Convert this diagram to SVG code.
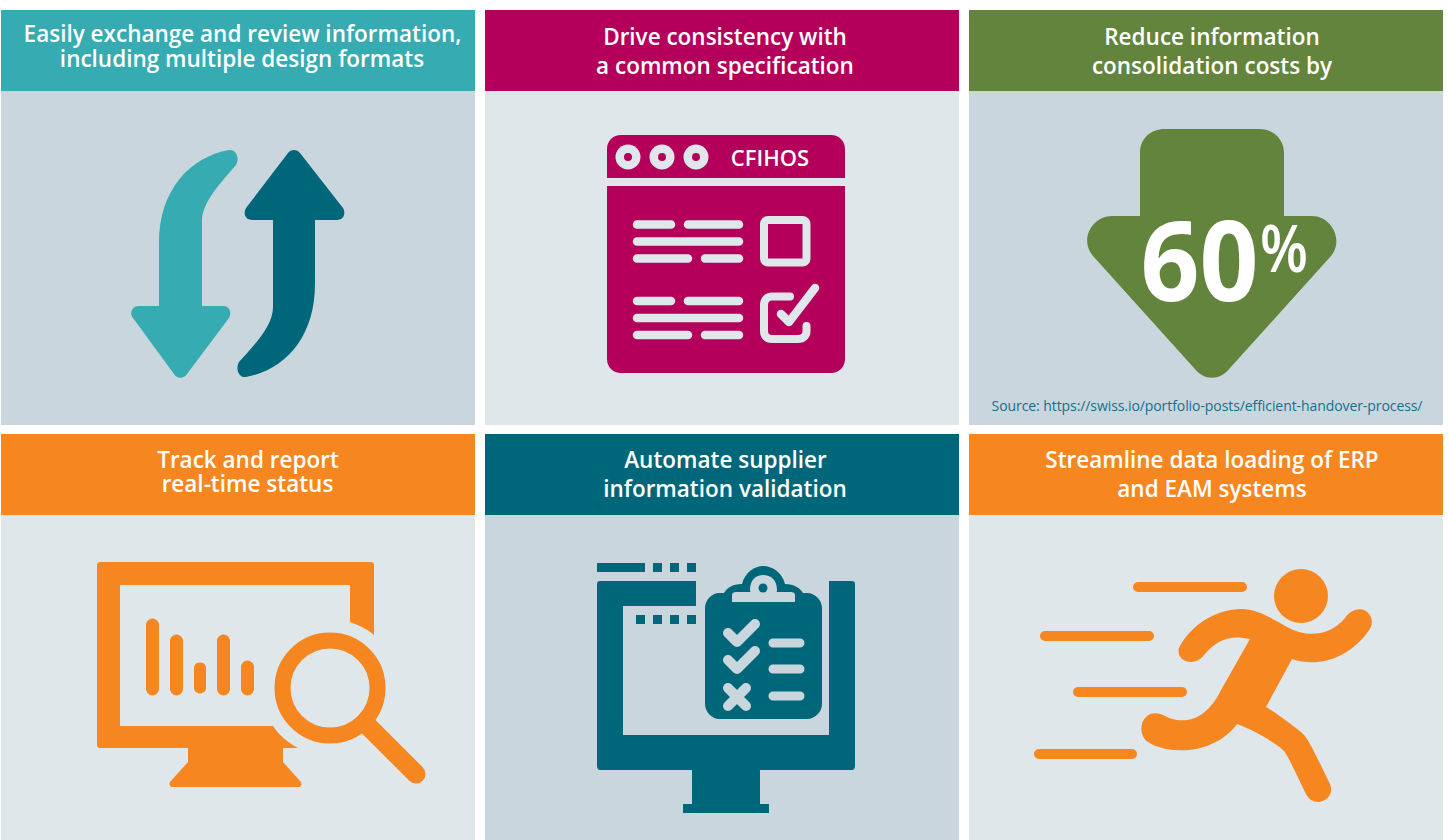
<svg xmlns="http://www.w3.org/2000/svg" width="1449" height="840" viewBox="0 0 1449 840">
<style>
.h{font-family:"Open Sans","Noto Sans","Liberation Sans",sans-serif;font-weight:600;font-size:22.500px;fill:#fff;text-anchor:middle}
.t{fill:#00677a}.a{fill:#36abb1}.m{fill:#b5005b}.g{fill:#62843d}.o{fill:#f68620}
.lm{stroke:#dfe7eb;stroke-width:8.500;stroke-linecap:round;fill:none}
.lt{stroke:#c9d6de;stroke-width:9;stroke-linecap:round;stroke-linejoin:round;fill:none}
.lo{stroke:#f68620;stroke-linecap:round;fill:none}
</style>
<rect width="1449" height="840" fill="#fff"/>
<g id="card1">
<rect x="1" y="91" width="474" height="334" fill="#c9d6de"/><rect class="a" x="1" y="10" width="474" height="81"/>
<text class="h" x="242.500" y="41.500">Easily exchange and review information,</text><text class="h" x="242" y="66.500">including multiple design formats</text>
<path class="a" d="M229 150C190 157 159 190 159 243V306H139C132 306 129 313 133 318L174 374C177 379 184 379 187 374L229 318C232 313 230 306 223 306H202V221C202 202 220 184 236 165C240 158 236 149 229 150Z"/>
<path class="t" d="M246 377C285 370 315 337 315 284V220H337C344 220 346 213 343 208L300 153C297 149 291 149 288 153L246 208C243 213 245 220 252 220H273V307C273 326 255 344 239 362C235 369 239 378 246 377Z"/>
</g>
<g id="card2">
<rect x="485" y="91" width="474" height="334" fill="#dfe7eb"/><rect class="m" x="485" y="10" width="474" height="81"/>
<text class="h" x="725" y="44.500">Drive consistency with</text><text class="h" x="725" y="73.500">a common specification</text>
<path class="m" d="M607 178V149C607 141 613 135 621 135H831C839 135 845 141 845 149V178ZM607 186H845V359C845 367 839 373 831 373H621C613 373 607 367 607 359Z"/>
<g fill="#dfe7eb"><circle cx="628" cy="157" r="12.500"/><circle cx="662" cy="157" r="12.500"/><circle cx="696" cy="157" r="12.500"/></g>
<g fill="#b5005b"><circle cx="628" cy="157" r="4"/><circle cx="662" cy="157" r="4"/><circle cx="696" cy="157" r="4"/></g>
<text x="770" y="165.500" font-family="'Open Sans','Noto Sans',sans-serif" font-weight="600" font-size="22" fill="#fff" text-anchor="middle">CFIHOS</text>
<path class="lm" d="M637 224.500H671M688 224.500H739M637 241.500H739M637 258.500H688M705 258.500H739M637 301H671M688 301H739M637 318H739M637 335H688M705 335H739"/>
<rect x="764" y="220" width="42.500" height="42.500" rx="4" fill="none" stroke="#dfe7eb" stroke-width="8"/>
<path d="M790 296.500H772C767 296.500 764 300 764 305V331C764 336 767 339 772 339H798C803 339 806.500 336 806.500 331V326" fill="none" stroke="#dfe7eb" stroke-width="8" stroke-linecap="round"/>
<path d="M781 314L789 322L815 288" fill="none" stroke="#dfe7eb" stroke-width="8.500" stroke-linecap="round" stroke-linejoin="round"/>
</g>
<g id="card3">
<rect x="969" y="91" width="474" height="334" fill="#c9d6de"/><rect class="g" x="969" y="10" width="474" height="81"/>
<text class="h" x="1212" y="44.500">Reduce information</text><text class="h" x="1212" y="73.500">consolidation costs by</text>
<path class="g" d="M1140 216V153C1140 139 1150 129 1165 129H1259C1273 129 1284 139 1284 153V216H1312C1332 216 1344 241 1331 256L1230 368C1220 381 1204 381 1194 368L1093 256C1079 240 1092 216 1112 216Z"/>
<text x="1199.500" y="301" font-family="'Open Sans','Noto Sans',sans-serif" font-weight="700" font-size="111" textLength="118" lengthAdjust="spacingAndGlyphs" fill="#fff" text-anchor="middle">60</text>
<text x="1284" y="272" font-family="'Open Sans','Noto Sans',sans-serif" font-weight="600" font-size="66" textLength="48" lengthAdjust="spacingAndGlyphs" fill="#fff" text-anchor="middle">%</text>
<text x="1207" y="411" font-family="'Open Sans','Noto Sans',sans-serif" font-size="14" letter-spacing="-.08" fill="#14708f" text-anchor="middle">Source: https://swiss.io/portfolio-posts/efficient-handover-process/</text>
</g>
<g id="card4">
<rect x="1" y="515" width="474" height="325" fill="#dfe7eb"/><rect class="o" x="1" y="434" width="474" height="81"/>
<text class="h" x="248" y="467.500">Track and report</text><text class="h" x="247.500" y="491.500">real-time status</text>
<path class="o" d="M97 565C97 563 99 562 100 562H371C373 562 374 563 374 565V635C367 629 359 625 350 622V585H120V726H273C279 735 287 742 298 748H283V762L301 782C302 784 301 787 299 787H172C170 787 169 784 170 782L188 762V748H100C98 748 97 747 97 745Z"/>
<path class="o" d="M146 625A6.300 6.300 0 0 1 159 625V689A6.300 6.300 0 0 1 146 689ZM170 641A6.300 6.300 0 0 1 183 641V689A6.300 6.300 0 0 1 170 689ZM194 667A6.300 6.300 0 0 1 206 667V689A6.300 6.300 0 0 1 194 689ZM217 641A6.300 6.300 0 0 1 230 641V689A6.300 6.300 0 0 1 217 689ZM241 667A6.300 6.300 0 0 1 254 667V689A6.300 6.300 0 0 1 241 689Z"/>
<circle cx="330" cy="688" r="47.500" fill="none" stroke="#f68620" stroke-width="16"/>
<path d="M367 725L416 774" stroke="#f68620" stroke-width="19" stroke-linecap="round" fill="none"/>
</g>
<g id="card5">
<rect x="485" y="515" width="474" height="325" fill="#c9d6de"/><rect class="t" x="485" y="434" width="474" height="81"/>
<text class="h" x="725.500" y="467.500">Automate supplier</text><text class="h" x="725" y="496.500">information validation</text>
<path class="t" d="M597 563H645V572H597ZM653 563H662V572H653ZM670 563H679V572H670ZM687 563H696V572H687ZM636 615H645V624H636ZM653 615H662V624H653ZM670 615H679V624H670ZM687 615H696V624H687Z"/>
<path class="t" d="M600 581H696V606H623V735H829V581H852C854 581 855 582 855 584V766C855 768 854 770 852 770H760V804H769V813H683V804H692V770H600C598 770 597 768 597 766V584C597 582 598 581 600 581Z"/>
<path class="t" d="M719 593H724C727 588 732 584 742 584C745 572 755 566 763 566C772 566 782 572 785 584C794 584 800 588 803 593H807C815 593 822 600 822 608V704C822 712 815 719 807 719H719C712 719 705 712 705 704V608C705 600 712 593 719 593Z"/>
<path fill="#c9d6de" d="M732 602V595C732 593 734 592 736 592H750C751 592 750 591 750 590C750 580 756 575 763 575C771 575 777 580 777 590C777 591 776 592 778 592H791C793 592 795 593 795 595V602Z"/>
<circle class="t" cx="763" cy="588" r="4.500"/>
<path class="lt" style="stroke-width:10" d="M728 633L737 642L755 624M728 660L737 669L755 651M728 688L746 706M746 688L728 706"/>
<path class="lt" d="M773 643H800M773 669H800M773 696H800"/>
</g>
<g id="card6">
<rect x="969" y="515" width="474" height="325" fill="#dfe7eb"/><rect class="o" x="969" y="434" width="474" height="81"/>
<text class="h" x="1212" y="467.500">Streamline data loading of ERP</text><text class="h" x="1212" y="496.500">and EAM systems</text>
<circle class="o" cx="1301" cy="596" r="27"/>
<path class="lo" stroke-width="10" d="M1138 587H1242M1045 636H1149M1078 692H1182M1039 754H1132"/>
<path class="o" d="M1181 644C1197 619 1221 609 1243 609C1261 610 1275 621 1289 628C1306 637 1329 637 1345 618C1351 609 1363 606 1369 614C1374 621 1372 627 1367 633C1348 658 1319 668 1292 659L1266 707C1278 714 1291 724 1301 732C1308 738 1312 747 1330 784C1334 794 1327 801 1319 802C1311 802 1307 797 1305 792C1296 774 1288 755 1283 750C1272 741 1254 730 1237 724C1222 745 1193 754 1166 749C1158 747 1152 745 1148 742C1139 736 1140 722 1146 717C1151 712 1158 713 1163 715C1177 723 1203 727 1221 690L1250 639C1232 635 1218 638 1204 655C1197 664 1188 663 1182 659C1178 655 1177 650 1181 644Z"/>
</g>
</svg>
